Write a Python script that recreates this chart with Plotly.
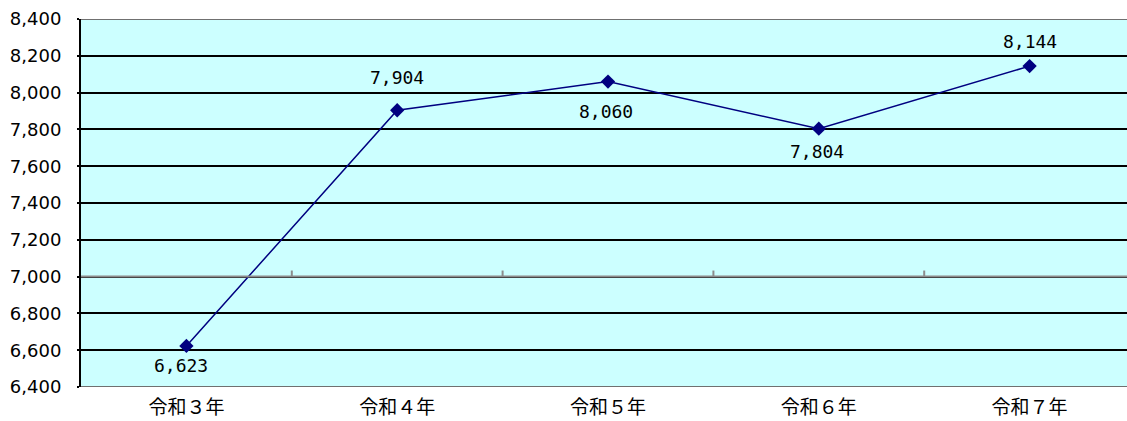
import plotly.graph_objects as go

categories = ["令和３年", "令和４年", "令和５年", "令和６年", "令和７年"]
values = [6623, 7904, 8060, 7804, 8144]
label_dy = [-20, 33, -30, -23, 25]
label_dx = [-5, 0, -2, -2, 0]
y_ticks = list(range(6400, 8401, 200))
y_tick_text = [f"{v:,}" for v in y_ticks]

x_idx = list(range(len(categories)))

fig = go.Figure()
fig.add_trace(go.Scatter(
    x=x_idx, y=values, mode="lines+markers",
    line=dict(color="#000080", width=1.5),
    marker=dict(symbol="diamond", size=11, color="#000080"),
    cliponaxis=False,
    showlegend=False,
))

annotations = []
for xi, v, dy, dx in zip(x_idx, values, label_dy, label_dx):
    annotations.append(dict(
        x=xi, y=v, xref="x", yref="y", text=f"{v:,}", showarrow=False,
        yshift=dy, xshift=dx,
        font=dict(family="DejaVu Sans Mono", size=18, color="#000000"),
    ))

shapes = []
shapes.append(dict(type="line", xref="paper", x0=0, x1=1, yref="y", y0=7000, y1=7000,
                   line=dict(color="#8c8c8c", width=2), layer="above"))
for b in [0.5, 1.5, 2.5, 3.5]:
    shapes.append(dict(type="line", xref="x", x0=b, x1=b, yref="y", y0=7000, y1=7033,
                       line=dict(color="#8c8c8c", width=2), layer="above"))
for yv in [6400, 8400]:
    shapes.append(dict(type="line", xref="paper", x0=0, x1=1, yref="y", y0=yv, y1=yv,
                       line=dict(color="#707070", width=2), layer="below"))

fig.update_layout(
    width=1127, height=421,
    margin=dict(l=81, r=0, t=19, b=34),
    paper_bgcolor="white", plot_bgcolor="#CCFFFF",
    shapes=shapes, annotations=annotations,
    xaxis=dict(
        range=[-0.5, 4.462], tickmode="array", tickvals=x_idx, ticktext=categories,
        showgrid=False, zeroline=False, showline=False, ticks="",
        tickfont=dict(family="Noto Sans CJK JP", size=19, color="#000000"),
        ticklabelstandoff=7, fixedrange=True, automargin=False,
    ),
    yaxis=dict(
        range=[6400, 8400], tickmode="array", tickvals=y_ticks, ticktext=y_tick_text,
        showgrid=True, gridcolor="#000000", gridwidth=1.5, zeroline=False,
        showline=True, linecolor="#000000", linewidth=2,
        ticks="outside", ticklen=2, tickcolor="#000000", tickwidth=1.5,
        tickfont=dict(family="DejaVu Sans", size=18, color="#000000"),
        ticklabelstandoff=12, fixedrange=True, automargin=False,
    ),
)

fig.write_html("out.html", config={"displayModeBar": False},
               post_script="document.body.style.margin='0';document.body.style.overflow='hidden';")
